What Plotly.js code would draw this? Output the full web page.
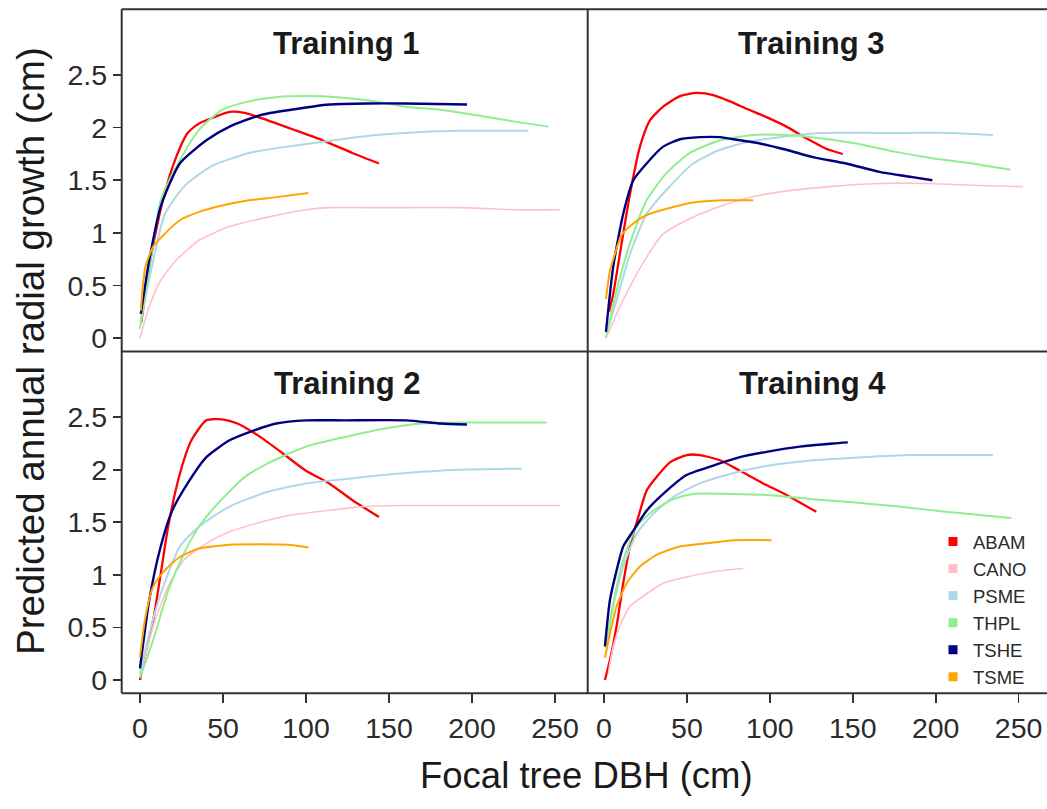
<!DOCTYPE html>
<html>
<head>
<meta charset="utf-8">
<script src="https://cdn.plot.ly/plotly-3.0.1.min.js"></script>
<style>
  html, body { margin: 0; padding: 0; background: #ffffff; }
  #chart { width: 1047px; height: 809px; }
</style>
</head>
<body>
<div id="chart"></div>
<script>
// Species, colours and axis ticks
const species = ['ABAM', 'CANO', 'PSME', 'THPL', 'TSHE', 'TSME'];
const speciesColors = ['#FF0000', '#FFC0CB', '#ADD8E6', '#90EE90', '#000080', '#FFA500'];
const panelTitles = ['Training 1', 'Training 3', 'Training 2', 'Training 4'];
const xTickVals = [0, 50, 100, 150, 200, 250];
const yTickVals = [0, 0.5, 1, 1.5, 2, 2.5];
const yTickText = ['0', '0.5', '1', '1.5', '2', '2.5'];

// Training 1: focal tree DBH (cm) and predicted growth (cm)
const t1_ABAM_dbh = [0.8, 5.6, 10.2, 14.8, 21.8, 28.7, 35.6, 44.8, 54, 63, 77, 91, 110, 128, 144];
const t1_ABAM_growth = [0.15, 0.68, 1.06, 1.375, 1.72, 1.95, 2.04, 2.1, 2.15, 2.14, 2.07, 1.99, 1.88, 1.76, 1.66];
const t1_CANO_dbh = [0, 5.6, 12.5, 21.8, 35.6, 54, 77, 100, 114, 147, 193, 227, 253];
const t1_CANO_growth = [0, 0.3, 0.55, 0.74, 0.93, 1.06, 1.15, 1.22, 1.24, 1.24, 1.24, 1.22, 1.22];
const t1_PSME_dbh = [0.5, 8, 15, 26.5, 42.6, 65.7, 88.8, 112, 142, 170, 193, 234];
const t1_PSME_growth = [0.17, 0.74, 1.18, 1.44, 1.63, 1.76, 1.82, 1.87, 1.93, 1.96, 1.97, 1.97];
const t1_THPL_dbh = [0, 5.6, 12.5, 24, 35.6, 49.5, 65.7, 82, 100, 119, 137, 160, 181, 202, 225, 246];
const t1_THPL_growth = [0.09, 0.65, 1.31, 1.69, 1.98, 2.17, 2.25, 2.29, 2.3, 2.29, 2.26, 2.2, 2.17, 2.12, 2.06, 2.01];
const t1_TSHE_dbh = [0.5, 5.6, 12.5, 24, 40, 54, 72.6, 91, 114, 137, 160, 197];
const t1_TSHE_growth = [0.23, 0.74, 1.25, 1.66, 1.88, 2.01, 2.12, 2.17, 2.22, 2.23, 2.23, 2.22];
const t1_TSME_dbh = [0.5, 3.3, 8, 14.8, 24, 35.6, 49.5, 65.7, 82, 101.5];
const t1_TSME_growth = [0.26, 0.68, 0.87, 0.99, 1.12, 1.2, 1.26, 1.31, 1.34, 1.38];

// Training 3
const t3_ABAM_dbh = [3, 5.6, 9.6, 15.7, 21.7, 27.7, 35.7, 45.8, 55.8, 65.9, 76, 86, 98, 110, 122, 134, 144];
const t3_ABAM_growth = [0.25, 0.42, 0.8, 1.37, 1.82, 2.07, 2.2, 2.3, 2.33, 2.31, 2.25, 2.18, 2.1, 2.01, 1.9, 1.8, 1.75];
const t3_CANO_dbh = [2.6, 7.6, 15.7, 25.7, 35.7, 49.8, 66, 86, 106, 136, 166, 196, 226.5, 252.6];
const t3_CANO_growth = [0.04, 0.23, 0.49, 0.77, 0.99, 1.12, 1.23, 1.33, 1.39, 1.44, 1.47, 1.47, 1.45, 1.44];
const t3_PSME_dbh = [1.5, 7.6, 15.7, 25.7, 37.8, 53.8, 70, 88, 106, 130, 166, 210, 234.5];
const t3_PSME_growth = [0.05, 0.36, 0.8, 1.18, 1.41, 1.66, 1.79, 1.87, 1.91, 1.95, 1.95, 1.95, 1.93];
const t3_THPL_dbh = [1.2, 7.6, 15.7, 25.7, 37.8, 51.8, 70, 90, 110, 130, 152, 176, 198, 222, 245];
const t3_THPL_growth = [0, 0.45, 0.9, 1.31, 1.57, 1.76, 1.88, 1.93, 1.93, 1.9, 1.85, 1.77, 1.71, 1.66, 1.6];
const t3_TSHE_dbh = [1.2, 5.6, 11.6, 17.7, 25.7, 35.7, 45.8, 57.8, 69.9, 82, 94, 110, 126, 146, 166, 186, 198];
const t3_TSHE_growth = [0.06, 0.68, 1.18, 1.5, 1.66, 1.82, 1.89, 1.91, 1.91, 1.88, 1.85, 1.79, 1.72, 1.66, 1.58, 1.53, 1.5];
const t3_TSME_dbh = [1.2, 3.6, 6.6, 10.6, 17.7, 25.7, 37.8, 53.8, 72, 90];
const t3_TSME_growth = [0.37, 0.64, 0.8, 0.98, 1.09, 1.17, 1.23, 1.29, 1.31, 1.31];

// Training 2
const t2_ABAM_dbh = [0, 3.3, 8, 12.5, 17, 24, 31, 40, 49.5, 58.7, 72.6, 86.5, 100, 114, 128, 144];
const t2_ABAM_growth = [0, 0.25, 0.57, 1.01, 1.46, 1.96, 2.28, 2.47, 2.48, 2.44, 2.31, 2.15, 1.99, 1.87, 1.71, 1.55];
const t2_CANO_dbh = [0, 8, 17, 26.4, 40, 54, 72.6, 91, 112, 135, 158, 192.7, 253];
const t2_CANO_growth = [0.02, 0.51, 0.89, 1.14, 1.3, 1.41, 1.5, 1.57, 1.61, 1.65, 1.66, 1.66, 1.66];
const t2_PSME_dbh = [0, 5.6, 12.5, 24, 35.6, 54, 77, 100, 123, 146.6, 169.7, 192.7, 230];
const t2_PSME_growth = [0.06, 0.44, 0.82, 1.27, 1.46, 1.65, 1.79, 1.87, 1.91, 1.95, 1.98, 2.0, 2.01];
const t2_THPL_dbh = [0, 8, 17, 26.4, 35.6, 47, 63, 77, 100, 123, 146.6, 169.7, 192.7, 216, 245];
const t2_THPL_growth = [0.02, 0.38, 0.85, 1.2, 1.46, 1.68, 1.93, 2.06, 2.22, 2.31, 2.39, 2.44, 2.45, 2.45, 2.45];
const t2_TSHE_dbh = [0, 5.6, 12.5, 19.4, 28.7, 40, 54, 68, 82, 100, 123, 160.5, 181, 197];
const t2_TSHE_growth = [0.11, 0.76, 1.27, 1.61, 1.87, 2.12, 2.28, 2.37, 2.44, 2.47, 2.47, 2.47, 2.44, 2.43];
const t2_TSME_dbh = [0, 3.3, 8, 14.8, 24, 35.6, 49.5, 72.6, 93.3, 101.5];
const t2_TSME_growth = [0.22, 0.6, 0.89, 1.04, 1.17, 1.25, 1.28, 1.29, 1.28, 1.26];

// Training 4
const t4_ABAM_dbh = [0.6, 3.6, 7.6, 11.6, 15.7, 20.7, 25.7, 31.7, 39.8, 49.8, 57.8, 70, 82, 96, 110, 128];
const t4_ABAM_growth = [0, 0.19, 0.51, 0.92, 1.27, 1.55, 1.8, 1.93, 2.07, 2.14, 2.14, 2.09, 1.99, 1.87, 1.76, 1.6];
const t4_CANO_dbh = [2.6, 5.6, 9.6, 15.7, 25.7, 35.7, 49.8, 65.9, 84];
const t4_CANO_growth = [0.06, 0.32, 0.51, 0.7, 0.82, 0.92, 0.98, 1.03, 1.06];
const t4_PSME_dbh = [1.2, 5.6, 11.6, 19.7, 29.7, 41.8, 57.8, 76, 96, 126, 156, 186, 234.5];
const t4_PSME_growth = [0.35, 0.7, 1.08, 1.39, 1.58, 1.74, 1.87, 1.96, 2.03, 2.09, 2.12, 2.14, 2.14];
const t4_THPL_dbh = [1.2, 5.6, 11.6, 19.7, 29.7, 41.8, 53.8, 76, 98, 126, 150, 178, 206, 226.5, 245.6];
const t4_THPL_growth = [0.3, 0.73, 1.14, 1.46, 1.61, 1.72, 1.77, 1.77, 1.76, 1.72, 1.69, 1.65, 1.6, 1.57, 1.54];
const t4_TSHE_dbh = [0.6, 3.6, 7.6, 11.6, 17.7, 25.7, 35.7, 49.8, 65.9, 82, 98, 118, 138, 147];
const t4_TSHE_growth = [0.32, 0.76, 1.04, 1.27, 1.42, 1.61, 1.77, 1.95, 2.04, 2.12, 2.17, 2.22, 2.25, 2.26];
const t4_TSME_dbh = [0.6, 3.6, 7.6, 13.7, 21.7, 31.7, 45.8, 62, 78, 101];
const t4_TSME_growth = [0.21, 0.44, 0.7, 0.92, 1.08, 1.19, 1.27, 1.3, 1.33, 1.33];

const panelData = {
  t1: { ABAM: [t1_ABAM_dbh, t1_ABAM_growth], CANO: [t1_CANO_dbh, t1_CANO_growth], PSME: [t1_PSME_dbh, t1_PSME_growth],
        THPL: [t1_THPL_dbh, t1_THPL_growth], TSHE: [t1_TSHE_dbh, t1_TSHE_growth], TSME: [t1_TSME_dbh, t1_TSME_growth] },
  t3: { ABAM: [t3_ABAM_dbh, t3_ABAM_growth], CANO: [t3_CANO_dbh, t3_CANO_growth], PSME: [t3_PSME_dbh, t3_PSME_growth],
        THPL: [t3_THPL_dbh, t3_THPL_growth], TSHE: [t3_TSHE_dbh, t3_TSHE_growth], TSME: [t3_TSME_dbh, t3_TSME_growth] },
  t2: { ABAM: [t2_ABAM_dbh, t2_ABAM_growth], CANO: [t2_CANO_dbh, t2_CANO_growth], PSME: [t2_PSME_dbh, t2_PSME_growth],
        THPL: [t2_THPL_dbh, t2_THPL_growth], TSHE: [t2_TSHE_dbh, t2_TSHE_growth], TSME: [t2_TSME_dbh, t2_TSME_growth] },
  t4: { ABAM: [t4_ABAM_dbh, t4_ABAM_growth], CANO: [t4_CANO_dbh, t4_CANO_growth], PSME: [t4_PSME_dbh, t4_PSME_growth],
        THPL: [t4_THPL_dbh, t4_THPL_growth], TSHE: [t4_TSHE_dbh, t4_TSHE_growth], TSME: [t4_TSME_dbh, t4_TSME_growth] }
};

// panel key -> axis pair (top row: Training 1, Training 3; bottom row: Training 2, Training 4)
const panelAxes = { t1: ['x', 'y'], t3: ['x2', 'y2'], t2: ['x3', 'y3'], t4: ['x4', 'y4'] };
const lineWidths = { ABAM: 2.3, CANO: 1.6, PSME: 2, THPL: 2, TSHE: 2.4, TSME: 2 };

const traces = [];
Object.keys(panelData).forEach(function (p) {
  species.forEach(function (sp, i) {
    const d = panelData[p][sp];
    traces.push({
      x: d[0], y: d[1], type: 'scatter', mode: 'lines',
      xaxis: panelAxes[p][0], yaxis: panelAxes[p][1],
      line: { color: speciesColors[i], width: lineWidths[sp], shape: 'spline', smoothing: 0.6 },
      name: sp, showlegend: false, hoverinfo: 'skip'
    });
  });
});
// legend keys drawn as filled squares
species.forEach(function (sp, i) {
  traces.push({
    x: [null], y: [null], type: 'scatter', mode: 'markers', xaxis: 'x4', yaxis: 'y4',
    marker: { symbol: 'square', size: 9, color: speciesColors[i] },
    name: sp, showlegend: true
  });
});

// geometry in paper fractions
const W = 1047, H = 809;
const xL0 = 121.7 / W, xMid = 587.7 / W, xR1 = 1.0;
const yTop = 1 - 9.3 / H, yMid = 1 - 351.5 / H, yBot = 1 - 693.3 / H;

const tickFont = { family: 'Liberation Sans, Arial, sans-serif', size: 28.5, color: '#2b2b2b' };
const leftRange = [-11.0, 269.7];
const rightRange = [-9.8, 267.1];
const yRange = [-0.127, 3.125];

function xAxis(domain, range, showLabels) {
  return {
    domain: domain, range: range, showgrid: false, zeroline: false, showline: false,
    tickvals: xTickVals, ticks: showLabels ? 'outside' : '', ticklen: 9, tickwidth: 1.6, tickcolor: '#333',
    showticklabels: showLabels, tickfont: tickFont, fixedrange: true
  };
}
function yAxis(domain, showLabels, anchor) {
  return {
    domain: domain, range: yRange, showgrid: false, zeroline: false, showline: false, anchor: anchor,
    tickvals: yTickVals, ticktext: yTickText, ticks: showLabels ? 'outside' : '', ticklen: 8, tickwidth: 1.6,
    tickcolor: '#333', showticklabels: showLabels, tickfont: tickFont, fixedrange: true
  };
}

const borderLine = { color: '#333333', width: 2 };
const shapes = [
  { type: 'line', xref: 'paper', yref: 'paper', x0: xL0, x1: xR1, y0: yTop, y1: yTop, line: borderLine },
  { type: 'line', xref: 'paper', yref: 'paper', x0: xL0, x1: xR1, y0: yMid, y1: yMid, line: borderLine },
  { type: 'line', xref: 'paper', yref: 'paper', x0: xL0, x1: xR1, y0: yBot, y1: yBot, line: borderLine },
  { type: 'line', xref: 'paper', yref: 'paper', x0: xL0, x1: xL0, y0: yBot, y1: yTop, line: borderLine },
  { type: 'line', xref: 'paper', yref: 'paper', x0: xMid, x1: xMid, y0: yBot, y1: yTop, line: borderLine }
];

const titleFont = { family: 'Liberation Sans, Arial, sans-serif', size: 31, color: '#1a1a1a', weight: 'bold' };
const titlePos = [[346, 43.5], [811, 43.5], [347, 383.5], [812, 383.5]];
const annotations = panelTitles.map(function (t, i) {
  return {
    text: '<b>' + t + '</b>', xref: 'paper', yref: 'paper', x: titlePos[i][0] / W, y: 1 - titlePos[i][1] / H,
    xanchor: 'center', yanchor: 'middle', showarrow: false, font: titleFont
  };
});
annotations.push({
  text: 'Focal tree DBH (cm)', xref: 'paper', yref: 'paper', x: 586 / W, y: 1 - 775 / H,
  xanchor: 'center', yanchor: 'middle', showarrow: false,
  font: { family: 'Liberation Sans, Arial, sans-serif', size: 36.5, color: '#1a1a1a' }
});
annotations.push({
  text: 'Predicted annual radial growth (cm)', xref: 'paper', yref: 'paper', x: 30 / W, y: 1 - 351 / H,
  xanchor: 'center', yanchor: 'middle', showarrow: false, textangle: -90,
  font: { family: 'Liberation Sans, Arial, sans-serif', size: 38.5, color: '#1a1a1a' }
});

const layout = {
  width: W, height: H, margin: { l: 0, r: 0, t: 0, b: 0 },
  paper_bgcolor: '#ffffff', plot_bgcolor: '#ffffff',
  xaxis: xAxis([xL0, xMid], leftRange, false),
  xaxis2: xAxis([xMid, xR1], rightRange, false),
  xaxis3: xAxis([xL0, xMid], leftRange, true),
  xaxis4: xAxis([xMid, xR1], rightRange, true),
  yaxis: yAxis([yMid, yTop], true, 'x'),
  yaxis2: yAxis([yMid, yTop], false, 'x2'),
  yaxis3: yAxis([yBot, yMid], true, 'x3'),
  yaxis4: yAxis([yBot, yMid], false, 'x4'),
  showlegend: true,
  legend: {
    x: 933 / W, y: 1 - 523 / H, xanchor: 'left', yanchor: 'top',
    bgcolor: 'rgba(0,0,0,0)', borderwidth: 0, tracegroupgap: 0, itemwidth: 30,
    font: { family: 'Liberation Sans, Arial, sans-serif', size: 18.5, color: '#2b2b2b' }
  },
  shapes: shapes,
  annotations: annotations
};
layout.xaxis.anchor = 'y';
layout.xaxis2.anchor = 'y2';
layout.xaxis3.anchor = 'y3';
layout.xaxis4.anchor = 'y4';

Plotly.newPlot('chart', traces, layout, { displayModeBar: false, staticPlot: true });
</script>
</body>
</html>
